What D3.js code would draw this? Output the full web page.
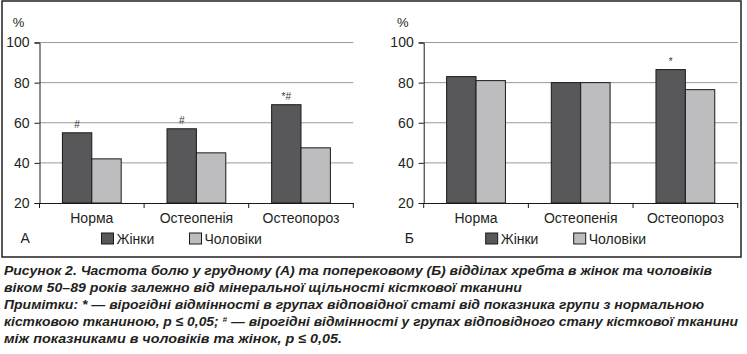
<!DOCTYPE html>
<html>
<head>
<meta charset="utf-8">
<script src="https://d3js.org/d3.v7.min.js"></script>
<style>
  body { margin: 0; background: #fff; }
  text { font-family: "Liberation Sans", Arial, sans-serif; fill: #231f20; }
</style>
</head>
<body>
<div id="chart"></div>
<script>
const categories = ["Норма", "Остеопенія", "Остеопороз"]
const seriesNames = ["Жінки", "Чоловіки"]
const womenA = [55, 57, 69]
const menA = [42, 45, 47.5]
const womenB = [83, 80, 86.5]
const menB = [81, 80, 76.5]
const marksA = ["#", "#", "*#"]
const marksB = ["", "", "*"]
const yTicks = [20, 40, 60, 80, 100]
const captionLines = [
    "Рисунок 2. Частота болю у грудному (А) та поперековому (Б) відділах хребта в жінок та чоловіків",
    "віком 50–89 років залежно від мінеральної щільності кісткової тканини",
    "Примітки: * — вірогідні відмінності в групах відповідної статі від показника групи з нормальною",
    "кістковою тканиною, p ≤ 0,05; # — вірогідні відмінності у групах відповідного стану кісткової тканини",
    "між показниками в чоловіків та жінок, p ≤ 0,05."
]

const width = 747, height = 354
const colors = {"Жінки": "#58585a", "Чоловіки": "#bdbdc0"}

const svg = d3.select("#chart")
    .append("svg")
    .attr("width", width)
    .attr("height", height)

// outer frame
svg.append("rect")
    .attr("x", 2).attr("y", 1)
    .attr("width", 739).attr("height", 256)
    .attr("fill", "none")
    .attr("stroke", "#231f20")
    .attr("stroke-width", 1.5)

const drawPanel = (left, right, letter, women, men, marks) => {
    const top = 42.5, bottom = 203
    const y = d3.scaleLinear().domain([20, 100]).range([bottom, top])
    const x0 = d3.scaleBand().domain(categories).range([left, right])
    const x1 = d3.scaleBand().domain(seriesNames).range([0, x0.bandwidth()]).paddingOuter(0.78)

    const rows = categories.map((c, i) => ({cat: c, "Жінки": women[i], "Чоловіки": men[i], mark: marks[i]}))

    const g = svg.append("g")

    // gridlines
    g.selectAll("line.grid")
        .data(yTicks.filter(t => t > 20))
        .enter()
        .append("line")
            .attr("x1", left).attr("x2", right)
            .attr("y1", d => y(d)).attr("y2", d => y(d))
            .attr("stroke", "#9a9a9a")
            .attr("stroke-width", 1)

    // bars
    g.selectAll("g.cat")
        .data(rows)
        .enter()
        .append("g")
            .attr("transform", d => `translate(${x0(d.cat)},0)`)
            .selectAll("rect")
            .data(d => seriesNames.map(s => ({s, v: d[s]})))
            .enter()
            .append("rect")
                .attr("x", d => x1(d.s))
                .attr("y", d => y(d.v))
                .attr("width", x1.bandwidth())
                .attr("height", d => y(20) - y(d.v))
                .attr("fill", d => colors[d.s])
                .attr("stroke", "#1a1a1a")
                .attr("stroke-width", 1)

    // significance marks
    g.selectAll("text.mark")
        .data(rows)
        .enter()
        .append("text")
            .attr("x", d => x0(d.cat) + x1("Жінки") + x1.bandwidth() / 2)
            .attr("y", d => y(d["Жінки"]) - 5)
            .attr("text-anchor", "middle")
            .attr("font-size", 10)
            .style("fill", "#333")
            .text(d => d.mark)

    // y axis
    const yAxis = g.append("g")
        .attr("transform", `translate(${left},0)`)
        .call(d3.axisLeft(y).tickValues(yTicks).tickSize(5).tickPadding(5))
    yAxis.select(".domain").attr("stroke", "#1a1a1a")
    yAxis.selectAll(".tick line").attr("stroke", "#1a1a1a")
    yAxis.selectAll("text").attr("font-size", 14).attr("font-family", "Liberation Sans, Arial, sans-serif").style("fill", "#231f20")

    // x axis
    const xAxis = g.append("g")
        .attr("transform", `translate(0,${bottom})`)
        .call(d3.axisBottom(x0).tickSize(0).tickPadding(10))
    xAxis.select(".domain").attr("stroke", "#1a1a1a")
    xAxis.selectAll("text").attr("font-size", 14).attr("font-family", "Liberation Sans, Arial, sans-serif").style("fill", "#231f20")
    g.selectAll("line.xtick")
        .data(categories.map(c => x0(c)).concat([right]))
        .enter()
        .append("line")
            .attr("x1", d => d).attr("x2", d => d)
            .attr("y1", bottom).attr("y2", bottom + 5)
            .attr("stroke", "#1a1a1a")

    // % label
    g.append("text")
        .attr("x", left - 21)
        .attr("y", 27)
        .attr("text-anchor", "middle")
        .attr("font-size", 13)
        .text("%")

    // panel letter + legend
    g.append("text")
        .attr("x", left - 19)
        .attr("y", 243)
        .attr("font-size", 14)
        .text(letter)

    const legend = g.selectAll("g.leg")
        .data(seriesNames)
        .enter()
        .append("g")
            .attr("transform", (d, i) => `translate(${left + 62 + i * 88},0)`)
    legend.append("rect")
        .attr("x", 0).attr("y", 233)
        .attr("width", 12).attr("height", 11)
        .attr("fill", d => colors[d])
        .attr("stroke", "#1a1a1a")
    legend.append("text")
        .attr("x", 15).attr("y", 243.5)
        .attr("font-size", 14)
        .text(d => d)
}

drawPanel(39.5, 353.3, "А", womenA, menA, marksA)
drawPanel(423.7, 737.7, "Б", womenB, menB, marksB)

// caption
const lineEnds = [712, 522, 704, 738, 342]
const cap = svg.append("g")
captionLines.forEach((line, i) => {
    const t = cap.append("text")
        .attr("x", 4)
        .attr("y", 274.5 + i * 17.2)
        .attr("font-size", 13.5)
        .attr("font-weight", "bold")
        .attr("font-style", "italic")
        .attr("textLength", lineEnds[i] - 4)
        .attr("lengthAdjust", "spacingAndGlyphs")
    if (i === 3) {
        const parts = line.split("#")
        t.append("tspan").text(parts[0])
        t.append("tspan").attr("dy", -4).attr("font-size", 8).text("#")
        t.append("tspan").attr("dy", 4).text(parts[1])
    } else {
        t.text(line)
    }
})
</script>
</body>
</html>
